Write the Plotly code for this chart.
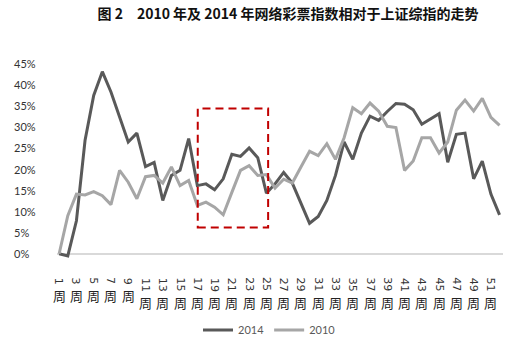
import plotly.graph_objects as go

# Weekly values of the online-lottery index relative to the SSE Composite
weeks = list(range(1, 53))
idx_2014 = [0.000, -0.005, 0.078, 0.268, 0.374, 0.430, 0.382, 0.323, 0.264, 0.285,
            0.206, 0.216, 0.126, 0.185, 0.197, 0.272, 0.161, 0.165, 0.151, 0.177,
            0.235, 0.230, 0.250, 0.227, 0.143, 0.165, 0.192, 0.167, 0.119, 0.072,
            0.088, 0.126, 0.185, 0.264, 0.223, 0.285, 0.325, 0.315, 0.336, 0.355,
            0.353, 0.340, 0.306, 0.319, 0.331, 0.216, 0.282, 0.285, 0.177, 0.219,
            0.141, 0.092]
idx_2010 = [0.000, 0.090, 0.141, 0.139, 0.147, 0.137, 0.116, 0.197, 0.169, 0.130,
            0.182, 0.185, 0.167, 0.205, 0.161, 0.173, 0.114, 0.122, 0.110, 0.092,
            0.145, 0.197, 0.208, 0.185, 0.187, 0.155, 0.176, 0.167, 0.205, 0.242,
            0.232, 0.260, 0.223, 0.274, 0.345, 0.331, 0.356, 0.337, 0.301, 0.298,
            0.197, 0.219, 0.274, 0.274, 0.238, 0.264, 0.339, 0.363, 0.337, 0.367,
            0.322, 0.303]

y_ticks = [0, 0.05, 0.10, 0.15, 0.20, 0.25, 0.30, 0.35, 0.40, 0.45]
y_tick_text = ["0%", "5%", "10%", "15%", "20%", "25%", "30%", "35%", "40%", "45%"]
x_label_weeks = list(range(1, 53, 2))

# Highlighted period (weeks / index levels)
box_weeks = (17.05, 25.2)
box_levels = (0.062, 0.343)

W, H = 511, 342
M_L, M_R, M_T, M_B = 57, 8, 59, 84
plot_w = W - M_L - M_R
plot_h = H - M_T - M_B

fig = go.Figure()
fig.add_trace(go.Scatter(x=weeks, y=idx_2014, mode="lines", name="2014",
                         line=dict(color="#595959", width=3)))
fig.add_trace(go.Scatter(x=weeks, y=idx_2010, mode="lines", name="2010",
                         line=dict(color="#a6a6a6", width=3)))

fig.add_shape(type="rect", xref="x", yref="y",
              x0=box_weeks[0], x1=box_weeks[1], y0=box_levels[0], y1=box_levels[1],
              line=dict(color="#c00000", width=2, dash="8px,5px"))

annotations = []
# y-axis labels, left aligned
for v, t in zip(y_ticks, y_tick_text):
    annotations.append(dict(x=(12 - M_L) / plot_w, xref="paper", y=v, yref="y",
                            text=t, showarrow=False, xanchor="left", yanchor="middle",
                            font=dict(family="Lato, Open Sans, sans-serif", size=11,
                                      color="#333333")))
# x-axis labels: rotated week number with upright 周 below
for w in x_label_weeks:
    s = str(w)
    annotations.append(dict(x=w, xref="x", y=0, yref="paper", text=s, textangle=90,
                            showarrow=False, xanchor="center", yanchor="top",
                            yshift=-18.5, borderpad=0,
                            font=dict(family="DejaVu Sans", size=11, color="#333333")))
    annotations.append(dict(x=w, xref="x", y=0, yref="paper", text="周",
                            showarrow=False, xanchor="center", yanchor="top",
                            yshift=-(27 if len(s) == 1 else 34), borderpad=0,
                            font=dict(family="Noto Sans CJK SC", size=13, color="#222222")))

fig.update_layout(
    width=W, height=H,
    margin=dict(l=M_L, r=M_R, t=M_T, b=M_B, autoexpand=False),
    paper_bgcolor="white", plot_bgcolor="white",
    title=dict(text="<b>图 2　2010 年及 2014 年网络彩票指数相对于上证综指的走势</b>",
               x=288 / W, xanchor="center", xref="container",
               y=1 - 14 / H, yanchor="middle", yref="container",
               font=dict(family="Noto Sans CJK SC", size=14, color="#111111")),
    xaxis=dict(range=[0.75, 52.4], showgrid=False, zeroline=False, showline=False,
               showticklabels=False, ticks=""),
    yaxis=dict(range=[-0.01, 0.46], showgrid=False, zeroline=True,
               zerolinecolor="#d9d9d9", zerolinewidth=1.5, showline=False,
               showticklabels=False, ticks=""),
    legend=dict(orientation="h", x=(198 - M_L) / plot_w, xanchor="left",
                y=-(330 - (H - M_B)) / plot_h, yanchor="middle",
                font=dict(family="Lato, Open Sans, sans-serif", size=11, color="#595959"),
                bgcolor="rgba(0,0,0,0)"),
    annotations=annotations,
    showlegend=True,
)

fig.write_html("out.html")
